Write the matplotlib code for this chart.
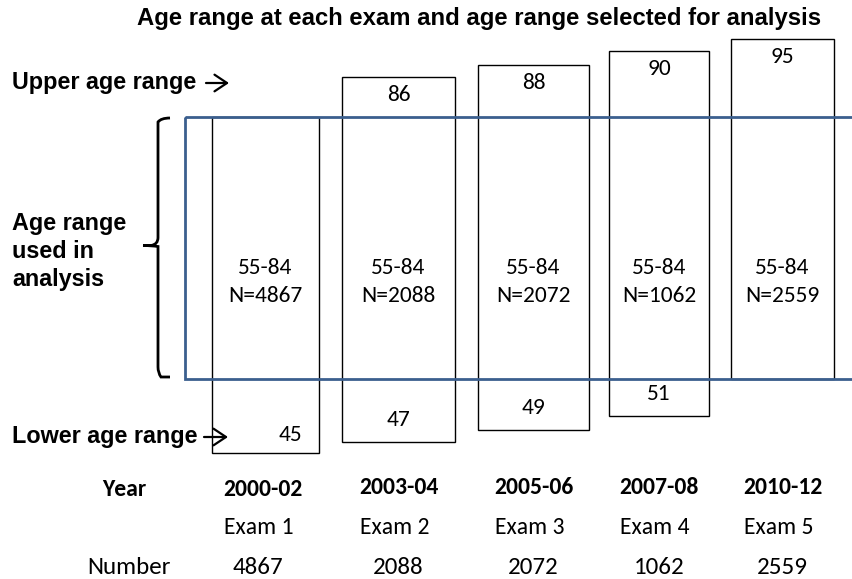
import numpy as np
import matplotlib
matplotlib.use("Agg")
import matplotlib.pyplot as plt
from matplotlib.patches import Rectangle
from matplotlib.path import Path
from matplotlib.patches import PathPatch

# ---- data ----
exams = ["Exam 1", "Exam 2", "Exam 3", "Exam 4", "Exam 5"]
years = ["2000-02", "2003-04", "2005-06", "2007-08", "2010-12"]
upper_age = [84, 86, 88, 90, 95]
lower_age = [45, 47, 49, 51, 55]
numbers = [4867, 2088, 2072, 1062, 2559]
analysis_range = (55, 84)
title = "Age range at each exam and age range selected for analysis"

# ---- layout (schematic, not to scale) ----
W, H = 852, 579
fig = plt.figure(figsize=(W / 100, H / 100), dpi=100)
ax = fig.add_axes([0, 0, 1, 1])
ax.set_xlim(0, W)
ax.set_ylim(H, 0)
ax.axis("off")

# schematic age -> vertical position mapping
age_anchor = [45, 47, 49, 51, 55, 84, 86, 88, 90, 95]
pos_anchor = [453, 442, 430, 416, 379, 117, 77, 65, 51, 39]
def ypos(a):
    return float(np.interp(a, age_anchor, pos_anchor))

box_left = [212, 342, 478, 609, 731]
box_right = [319, 455, 589, 709, 834]
centers = [(l + r) / 2 for l, r in zip(box_left, box_right)]

num_font = ["Carlito", "Lato", "DejaVu Sans"]
bold_font = ["Liberation Sans", "DejaVu Sans"]
NFS = 16.8

# blue analysis window
a_lo, a_hi = analysis_range
ax.add_patch(Rectangle((185, ypos(a_hi)), 900, ypos(a_lo) - ypos(a_hi),
                       fill=False, edgecolor="#3B5F8E", lw=2.0, zorder=3,
                       clip_on=True))

for i in range(len(exams)):
    top = ypos(upper_age[i])
    bot = ypos(lower_age[i])
    ax.add_patch(Rectangle((box_left[i], top), box_right[i] - box_left[i], bot - top,
                           fill=False, edgecolor="black", lw=1.0, zorder=2))
    cx = centers[i]
    ax.text(cx, 268, f"{a_lo}-{a_hi}", ha="center", va="center",
            fontsize=NFS, family=num_font, zorder=4)
    ax.text(cx, 296, f"N={numbers[i]}", ha="center", va="center",
            fontsize=NFS, family=num_font, zorder=4)
    if upper_age[i] != a_hi:
        ax.text(cx, top + 18, str(upper_age[i]), ha="center", va="center",
                fontsize=NFS, family=num_font)
    if lower_age[i] != a_lo:
        if i == 0:
            ax.text(cx + 25, bot - 18, str(lower_age[i]), ha="center", va="center",
                    fontsize=NFS, family=num_font)
        else:
            ax.text(cx, bot - 22, str(lower_age[i]), ha="center", va="center",
                    fontsize=NFS, family=num_font)

# brace
y0, y1 = ypos(a_hi) + 1, ypos(a_lo) - 2
ym = (y0 + y1) / 2 - 2
xb = 158
verts = [(170, y0), (161, y0), (xb, y0 + 4), (xb, y0 + 10),
         (xb, ym - 8), (xb, ym - 1), (151, ym), (143, ym),
         (151, ym), (xb, ym + 1), (xb, ym + 8),
         (xb, y1 - 10), (xb, y1 - 4), (161, y1), (170, y1)]
codes = [Path.MOVETO, Path.CURVE3, Path.CURVE3, Path.LINETO,
         Path.LINETO, Path.CURVE3, Path.CURVE3, Path.LINETO,
         Path.CURVE3, Path.CURVE3, Path.LINETO,
         Path.LINETO, Path.CURVE3, Path.CURVE3, Path.LINETO]
ax.add_patch(PathPatch(Path(verts, codes), fill=False, lw=2.0, edgecolor="black"))

# title and side labels
ax.text(479, 19, title, ha="center", va="center", fontsize=17.2,
        fontweight="bold", family=bold_font)
ax.text(12, 89, "Upper age range", ha="left", va="baseline", fontsize=16.8,
        fontweight="bold", family=bold_font)
ax.text(12, 443, "Lower age range", ha="left", va="baseline", fontsize=16.8,
        fontweight="bold", family=bold_font)
for txt, yb in zip(["Age range", "used in", "analysis"], [230, 258, 286]):
    ax.text(12, yb, txt, ha="left", va="baseline", fontsize=16.8,
            fontweight="bold", family=bold_font)
arrow_kw = dict(arrowstyle="->,head_length=0.45,head_width=0.3", lw=1.6,
                color="black", mutation_scale=20, shrinkA=0, shrinkB=0)
ax.annotate("", xy=(229, 83), xytext=(206, 83), arrowprops=arrow_kw)
ax.annotate("", xy=(228, 437), xytext=(204, 437), arrowprops=arrow_kw)

# bottom table
ax.text(124, 489, "Year", ha="center", va="center", fontsize=17,
        fontweight="bold", family=num_font)
ax.text(129, 567, "Number", ha="center", va="center", fontsize=18,
        family=num_font)
year_dy = [490, 487, 487, 487, 487]
for i in range(len(exams)):
    cx = centers[i]
    ax.text(cx - 3 if i == 0 else cx, year_dy[i], years[i], ha="center", va="center",
            fontsize=17, fontweight="bold", family=num_font)
    ax.text(cx - 7 if i == 0 else cx - 4, 528, exams[i], ha="center", va="center",
            fontsize=17, family=num_font)
    ax.text(cx - 8 if i == 0 else cx, 567, str(numbers[i]), ha="center", va="center",
            fontsize=18, family=num_font)

fig.savefig("out.png", dpi=100)
